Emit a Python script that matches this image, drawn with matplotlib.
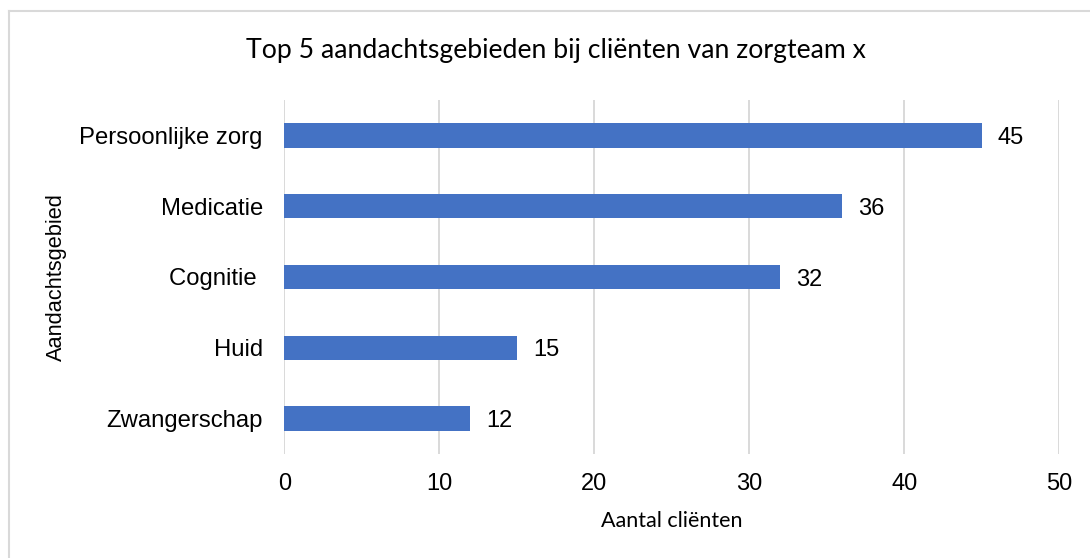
import matplotlib
matplotlib.use("Agg")
import matplotlib.pyplot as plt
from matplotlib.lines import Line2D

categories = ["Persoonlijke zorg", "Medicatie", "Cognitie ", "Huid", "Zwangerschap"]
values = [45, 36, 32, 15, 12]
xticks = [0, 10, 20, 30, 40, 50]

BAR = "#4472C4"
GRID = "#d9d9d9"
ARIAL = "Liberation Sans"
CALIBRI = "Lato"

fig = plt.figure(figsize=(10.9, 5.58), dpi=100)
ax = fig.add_axes([284.3 / 1090, 1 - 454 / 558, (1059.3 - 284.3) / 1090, 354 / 558])

y = range(len(categories))
ax.barh(y, values, height=0.345, color=BAR, zorder=3)

for i, v in zip(y, values):
    ax.annotate(str(v), xy=(v, i), xytext=(11.5, 0), textcoords="offset points",
                ha="left", va="center_baseline", fontsize=17, family=ARIAL, color="#000000")

ax.set_xlim(0, 50)
ax.set_ylim(len(categories) - 0.5, -0.5)
ax.set_xticks(xticks)
ax.set_xticklabels([str(t) for t in xticks], fontsize=17, family=ARIAL)
ax.set_yticks(list(y))
ax.set_yticklabels(categories, fontsize=17.2, family=ARIAL)
ax.tick_params(axis="both", length=0)
ax.tick_params(axis="y", pad=15.5)
ax.tick_params(axis="x", pad=14)
ax.grid(axis="x", color=GRID, linewidth=1.4, zorder=0)
ax.set_axisbelow(True)
for s in ax.spines.values():
    s.set_visible(False)

# titles
fig.text(556 / 1090, 1 - 58.3 / 558, "Top 5 aandachtsgebieden bij cliënten van zorgteam x",
         ha="center", va="baseline", fontsize=19.2, family=CALIBRI)
fig.text(672 / 1090, 1 - 526.7 / 558, "Aantal cliënten",
         ha="center", va="baseline", fontsize=15.5, family=CALIBRI)
fig.text(56.7 / 1090, 1 - 277 / 558, "Aandachtsgebied", rotation=90,
         ha="center", va="center", fontsize=15.7, family=ARIAL)

# chart border (only top and left edges visible in the crop)
x0, y0 = 9 / 1090, 1 - 11 / 558
fig.add_artist(Line2D([x0, 1.01], [y0, y0], transform=fig.transFigure, color=GRID, linewidth=1.5))
fig.add_artist(Line2D([x0, x0], [y0, -0.01], transform=fig.transFigure, color=GRID, linewidth=1.5))

fig.savefig("out.png", dpi=100)
